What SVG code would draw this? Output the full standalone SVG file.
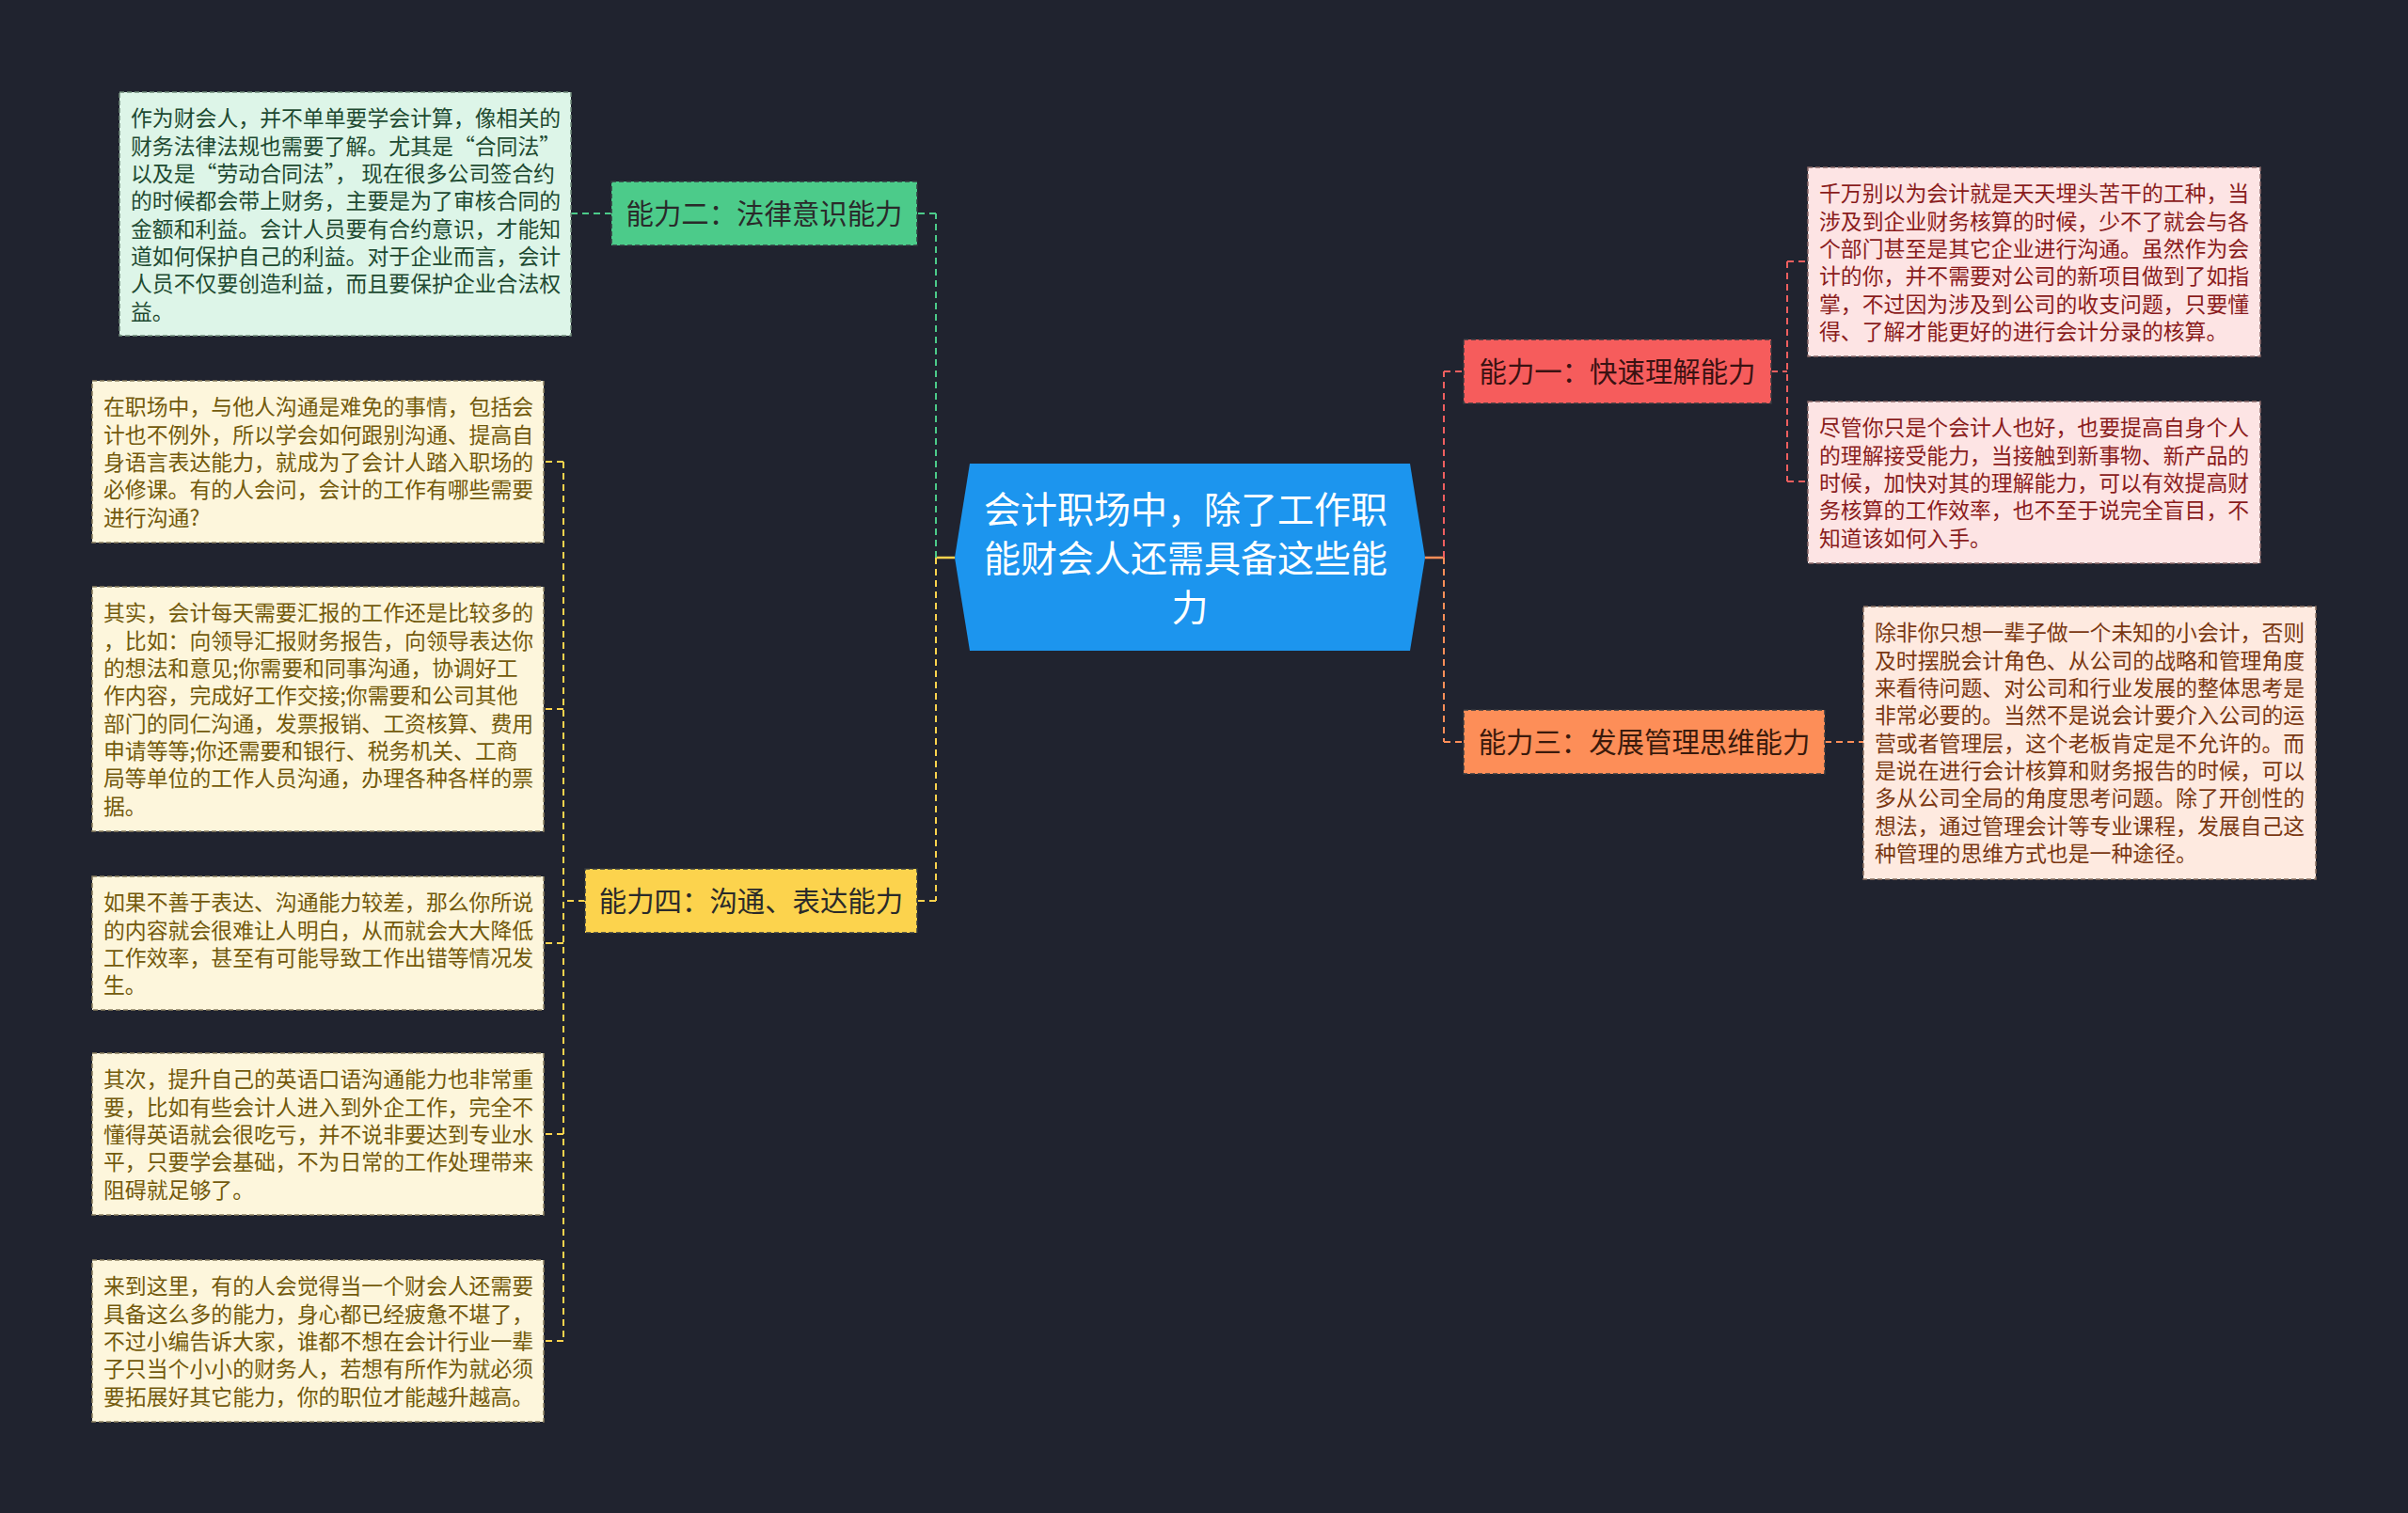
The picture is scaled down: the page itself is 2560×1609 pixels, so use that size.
<svg xmlns="http://www.w3.org/2000/svg" width="2560" height="1609" viewBox="0 0 2560 1609">
<style>
text{font-family:"Noto Sans CJK SC","Noto Sans",sans-serif;}
.leaf{stroke-width:1.5;stroke-dasharray:5 3;}
.lt{font-size:22.86px;}
.bt{font-size:29.4px;fill:#2a2a2a;}
.branch{stroke:#333a40;stroke-width:1.5;stroke-dasharray:5 3;}
.c{fill:none;stroke-width:2;stroke-dasharray:7 5;}
.cs{fill:none;stroke-width:2.5;}
.g{stroke:#4ccb8a;}
.y{stroke:#fcd34d;}
.r{stroke:#ef5f5f;}
.o{stroke:#fd8e58;}
</style>
<rect width="2560" height="1609" fill="#20232f"/>

<g id="connectors">
  <!-- left side -->
  <line class="cs y" x1="995" y1="593" x2="1015" y2="593"/>
  <line class="c g" x1="995" y1="593" x2="995" y2="227"/>
  <line class="c g" x1="995" y1="227" x2="975" y2="227"/>
  <line class="c y" x1="995" y1="593" x2="995" y2="958"/>
  <line class="c y" x1="995" y1="958" x2="975" y2="958"/>
  <line class="c g" x1="650" y1="227" x2="607" y2="227"/>
  <line class="c y" x1="622" y1="958" x2="599" y2="958"/>
  <line class="c y" x1="599" y1="491" x2="599" y2="1426"/>
  <line class="c y" x1="599" y1="491" x2="578" y2="491"/>
  <line class="c y" x1="599" y1="754" x2="578" y2="754"/>
  <line class="c y" x1="599" y1="1003" x2="578" y2="1003"/>
  <line class="c y" x1="599" y1="1206" x2="578" y2="1206"/>
  <line class="c y" x1="599" y1="1426" x2="578" y2="1426"/>
  <!-- right side -->
  <line class="cs o" x1="1515" y1="593" x2="1535" y2="593"/>
  <line class="c r" x1="1535" y1="593" x2="1535" y2="395"/>
  <line class="c r" x1="1535" y1="395" x2="1556" y2="395"/>
  <line class="c o" x1="1535" y1="593" x2="1535" y2="789"/>
  <line class="c o" x1="1535" y1="789" x2="1556" y2="789"/>
  <line class="c r" x1="1883" y1="395" x2="1900" y2="395"/>
  <line class="c r" x1="1900" y1="278" x2="1900" y2="512"/>
  <line class="c r" x1="1900" y1="278" x2="1922" y2="278"/>
  <line class="c r" x1="1900" y1="512" x2="1922" y2="512"/>
  <line class="c o" x1="1940" y1="789" x2="1981" y2="789"/>
</g>

<g id="center">
  <polygon points="1031,493 1499,493 1515,593 1499,692 1031,692 1015,593" fill="#1c95ee"/>
  <text x="1265" font-size="39" fill="#ffffff" text-anchor="middle">
    <tspan x="1265" y="556">会计职场中，除了工作职</tspan>
    <tspan x="1265" y="608">能财会人还需具备这些能</tspan>
    <tspan x="1265" y="660">力</tspan>
  </text>
</g>

<g id="branch-2">
  <rect class="branch" x="650" y="193" width="325" height="68" fill="#4ccb8a"/>
  <text class="bt" x="812.5" y="238" text-anchor="middle" fill="#1d3327">能力二：法律意识能力</text>
</g>

<g id="branch-4">
  <rect class="branch" x="622" y="924" width="353" height="68" fill="#fcd34d"/>
  <text class="bt" x="798.5" y="969" text-anchor="middle">能力四：沟通、表达能力</text>
</g>

<g id="branch-1">
  <rect class="branch" x="1556" y="361" width="327" height="68" fill="#f65c5c"/>
  <text class="bt" x="1719.5" y="406" text-anchor="middle" style="fill:#3a1212">能力一：快速理解能力</text>
</g>

<g id="branch-3">
  <rect class="branch" x="1556" y="755" width="384" height="68" fill="#fd8e58"/>
  <text class="bt" x="1748" y="800" text-anchor="middle" style="fill:#3a1a0c">能力三：发展管理思维能力</text>
</g>

<g id="leaf-green">
  <rect class="leaf" x="127" y="98" width="480" height="259" fill="#ddf5e8" stroke="#6f8a7a"/>
  <text class="lt" fill="#1e4a31">
    <tspan x="139" y="134.4">作为财会人，并不单单要学会计算，像相关的</tspan>
    <tspan x="139" y="163.7">财务法律法规也需要了解。尤其是“合同法”</tspan>
    <tspan x="139" y="193">以及是“劳动合同法”， 现在很多公司签合约</tspan>
    <tspan x="139" y="222.3">的时候都会带上财务，主要是为了审核合同的</tspan>
    <tspan x="139" y="251.6">金额和利益。会计人员要有合约意识，才能知</tspan>
    <tspan x="139" y="280.9">道如何保护自己的利益。对于企业而言，会计</tspan>
    <tspan x="139" y="310.2">人员不仅要创造利益，而且要保护企业合法权</tspan>
    <tspan x="139" y="339.5">益。</tspan>
  </text>
</g>

<g id="leaf-y1">
  <rect class="leaf" x="98" y="405" width="480" height="172" fill="#fdf6dc" stroke="#8a8060"/>
  <text class="lt" fill="#735a0c">
    <tspan x="110" y="441.4">在职场中，与他人沟通是难免的事情，包括会</tspan>
    <tspan x="110" y="470.7">计也不例外，所以学会如何跟别沟通、提高自</tspan>
    <tspan x="110" y="500">身语言表达能力，就成为了会计人踏入职场的</tspan>
    <tspan x="110" y="529.3">必修课。有的人会问，会计的工作有哪些需要</tspan>
    <tspan x="110" y="558.6">进行沟通?</tspan>
  </text>
</g>

<g id="leaf-y2">
  <rect class="leaf" x="98" y="624" width="480" height="260" fill="#fdf6dc" stroke="#8a8060"/>
  <text class="lt" fill="#735a0c">
    <tspan x="110" y="660.4">其实，会计每天需要汇报的工作还是比较多的</tspan>
    <tspan x="110" y="689.7">，比如：向领导汇报财务报告，向领导表达你</tspan>
    <tspan x="110" y="719">的想法和意见;你需要和同事沟通，协调好工</tspan>
    <tspan x="110" y="748.3">作内容，完成好工作交接;你需要和公司其他</tspan>
    <tspan x="110" y="777.6">部门的同仁沟通，发票报销、工资核算、费用</tspan>
    <tspan x="110" y="806.9">申请等等;你还需要和银行、税务机关、工商</tspan>
    <tspan x="110" y="836.2">局等单位的工作人员沟通，办理各种各样的票</tspan>
    <tspan x="110" y="865.5">据。</tspan>
  </text>
</g>

<g id="leaf-y3">
  <rect class="leaf" x="98" y="932" width="480" height="142" fill="#fdf6dc" stroke="#8a8060"/>
  <text class="lt" fill="#735a0c">
    <tspan x="110" y="968.4">如果不善于表达、沟通能力较差，那么你所说</tspan>
    <tspan x="110" y="997.7">的内容就会很难让人明白，从而就会大大降低</tspan>
    <tspan x="110" y="1027">工作效率，甚至有可能导致工作出错等情况发</tspan>
    <tspan x="110" y="1056.3">生。</tspan>
  </text>
</g>

<g id="leaf-y4">
  <rect class="leaf" x="98" y="1120" width="480" height="172" fill="#fdf6dc" stroke="#8a8060"/>
  <text class="lt" fill="#735a0c">
    <tspan x="110" y="1156.4">其次，提升自己的英语口语沟通能力也非常重</tspan>
    <tspan x="110" y="1185.7">要，比如有些会计人进入到外企工作，完全不</tspan>
    <tspan x="110" y="1215">懂得英语就会很吃亏，并不说非要达到专业水</tspan>
    <tspan x="110" y="1244.3">平，只要学会基础，不为日常的工作处理带来</tspan>
    <tspan x="110" y="1273.6">阻碍就足够了。</tspan>
  </text>
</g>

<g id="leaf-y5">
  <rect class="leaf" x="98" y="1340" width="480" height="172" fill="#fdf6dc" stroke="#8a8060"/>
  <text class="lt" fill="#735a0c">
    <tspan x="110" y="1376.4">来到这里，有的人会觉得当一个财会人还需要</tspan>
    <tspan x="110" y="1405.7">具备这么多的能力，身心都已经疲惫不堪了，</tspan>
    <tspan x="110" y="1435">不过小编告诉大家，谁都不想在会计行业一辈</tspan>
    <tspan x="110" y="1464.3">子只当个小小的财务人，若想有所作为就必须</tspan>
    <tspan x="110" y="1493.6">要拓展好其它能力，你的职位才能越升越高。</tspan>
  </text>
</g>

<g id="leaf-r1">
  <rect class="leaf" x="1922" y="178" width="481" height="201" fill="#fde4e4" stroke="#8a6a6a"/>
  <text class="lt" fill="#8a1c1c">
    <tspan x="1934" y="214.4">千万别以为会计就是天天埋头苦干的工种，当</tspan>
    <tspan x="1934" y="243.7">涉及到企业财务核算的时候，少不了就会与各</tspan>
    <tspan x="1934" y="273">个部门甚至是其它企业进行沟通。虽然作为会</tspan>
    <tspan x="1934" y="302.3">计的你，并不需要对公司的新项目做到了如指</tspan>
    <tspan x="1934" y="331.6">掌，不过因为涉及到公司的收支问题，只要懂</tspan>
    <tspan x="1934" y="360.9">得、了解才能更好的进行会计分录的核算。</tspan>
  </text>
</g>

<g id="leaf-r2">
  <rect class="leaf" x="1922" y="427" width="481" height="172" fill="#fde4e4" stroke="#8a6a6a"/>
  <text class="lt" fill="#8a1c1c">
    <tspan x="1934" y="463.4">尽管你只是个会计人也好，也要提高自身个人</tspan>
    <tspan x="1934" y="492.7">的理解接受能力，当接触到新事物、新产品的</tspan>
    <tspan x="1934" y="522">时候，加快对其的理解能力，可以有效提高财</tspan>
    <tspan x="1934" y="551.3">务核算的工作效率，也不至于说完全盲目，不</tspan>
    <tspan x="1934" y="580.6">知道该如何入手。</tspan>
  </text>
</g>

<g id="leaf-o">
  <rect class="leaf" x="1981" y="645" width="481" height="290" fill="#feeae0" stroke="#8a7060"/>
  <text class="lt" fill="#7a3812">
    <tspan x="1993" y="681.4">除非你只想一辈子做一个未知的小会计，否则</tspan>
    <tspan x="1993" y="710.7">及时摆脱会计角色、从公司的战略和管理角度</tspan>
    <tspan x="1993" y="740">来看待问题、对公司和行业发展的整体思考是</tspan>
    <tspan x="1993" y="769.3">非常必要的。当然不是说会计要介入公司的运</tspan>
    <tspan x="1993" y="798.6">营或者管理层，这个老板肯定是不允许的。而</tspan>
    <tspan x="1993" y="827.9">是说在进行会计核算和财务报告的时候，可以</tspan>
    <tspan x="1993" y="857.2">多从公司全局的角度思考问题。除了开创性的</tspan>
    <tspan x="1993" y="886.5">想法，通过管理会计等专业课程，发展自己这</tspan>
    <tspan x="1993" y="915.8">种管理的思维方式也是一种途径。</tspan>
  </text>
</g>
</svg>
